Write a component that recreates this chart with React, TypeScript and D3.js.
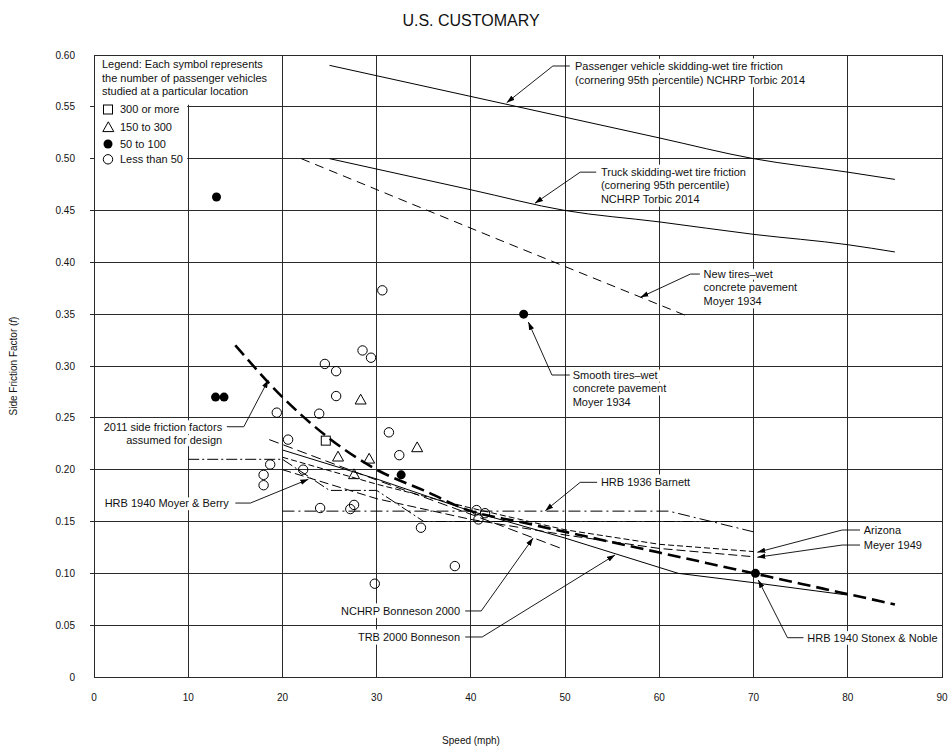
import React from "react";
import * as d3 from "d3";

// axis ticks
const xTickValues = [0, 10, 20, 30, 40, 50, 60, 70, 80, 90];
const yTickValues = [0, 0.05, 0.1, 0.15, 0.2, 0.25, 0.3, 0.35, 0.4, 0.45, 0.5, 0.55, 0.6];

// observed points [speed mph, side friction f]
const openCircles: [number, number][] = [
  [30.6, 0.373], [28.5, 0.315], [29.4, 0.308], [24.5, 0.302], [25.7, 0.295],
  [25.7, 0.271], [19.4, 0.255], [23.9, 0.254], [31.3, 0.236], [20.6, 0.229],
  [32.4, 0.214], [18.7, 0.205], [22.2, 0.2], [18.0, 0.195], [18.0, 0.185],
  [24.0, 0.163], [27.6, 0.166], [27.2, 0.162], [34.7, 0.144], [38.3, 0.107],
  [29.8, 0.09], [40.6, 0.161], [41.5, 0.158], [40.8, 0.152],
];
const filledCircles: [number, number][] = [
  [13.0, 0.463], [12.9, 0.27], [13.8, 0.27], [32.6, 0.195], [45.6, 0.35], [70.2, 0.1],
];
const squares: [number, number][] = [[24.6, 0.228]];
const triangles: [number, number][] = [
  [25.9, 0.212], [29.2, 0.21], [27.6, 0.195], [28.3, 0.267], [34.3, 0.221],
];

// curves
const passengerSpeed = [25, 30, 40, 50, 60, 70, 80, 85];
const passengerF = [0.59, 0.58, 0.56, 0.54, 0.52, 0.5, 0.487, 0.48];
const truckSpeed = [25, 30, 40, 50, 60, 70, 80, 85];
const truckF = [0.5, 0.49, 0.47, 0.45, 0.439, 0.427, 0.417, 0.41];
const newTiresSpeed = [22, 43.2, 63];
const newTiresF = [0.5, 0.421, 0.348];
const designSpeed = [15, 20, 25, 30, 35, 40, 45, 50, 55, 60, 65, 70, 75, 80, 85];
const designF = [0.32, 0.27, 0.23, 0.2, 0.18, 0.16, 0.15, 0.14, 0.13, 0.12, 0.11, 0.1, 0.09, 0.08, 0.07];
const trbSpeed = [20, 30, 40, 50, 62, 70, 80];
const trbF = [0.219, 0.191, 0.16, 0.134, 0.1, 0.091, 0.079];
const nchrpSpeed = [18.6, 30, 40, 49.6];
const nchrpF = [0.229, 0.19, 0.157, 0.124];
const moyerBerrySpeed = [10, 20, 25, 30, 35, 70];
const moyerBerryF = [0.21, 0.21, 0.18, 0.18, 0.15, 0.15];
const barnettSpeed = [20, 61, 70];
const barnettF = [0.16, 0.16, 0.14];
const arizonaSpeed = [20, 30, 40, 50, 60, 70];
const arizonaF = [0.212, 0.186, 0.163, 0.142, 0.128, 0.121];
const meyerSpeed = [20, 30, 40, 50, 60, 70];
const meyerF = [0.2, 0.172, 0.152, 0.137, 0.124, 0.116];

const legendLines = [
  "Legend: Each symbol represents",
  "the number of passenger vehicles",
  "studied at a particular location",
];
const legendItems = ["300 or more", "150 to 300", "50 to 100", "Less than 50"];

const zip = (a: number[], b: number[]) => a.map((v, i) => [v, b[i]] as [number, number]);

const series = [
  { pts: zip(passengerSpeed, passengerF), w: 1, dash: "none", smooth: true },
  { pts: zip(truckSpeed, truckF), w: 1, dash: "none", smooth: true },
  { pts: zip(newTiresSpeed, newTiresF), w: 1, dash: "9 6", smooth: false },
  { pts: zip(trbSpeed, trbF), w: 1, dash: "none", smooth: false },
  { pts: zip(nchrpSpeed, nchrpF), w: 1, dash: "10 5", smooth: false },
  { pts: zip(moyerBerrySpeed, moyerBerryF), w: 1, dash: "11 3 2 3", smooth: false },
  { pts: zip(barnettSpeed, barnettF), w: 1, dash: "12 4 2 4", smooth: false },
  { pts: zip(arizonaSpeed, arizonaF), w: 1, dash: "6 3", smooth: false },
  { pts: zip(meyerSpeed, meyerF), w: 1, dash: "9 4", smooth: false },
  { pts: zip(designSpeed, designF), w: 2.6, dash: "13 6", smooth: true },
];

// annotations: text anchor and leader (last point = arrow tip), all in data units
const annotations: {
  lines: string[];
  anchor: "start" | "end";
  at: [number, number];
  leader: [number, number][];
}[] = [
  {
    lines: ["Passenger vehicle skidding-wet tire friction", "(cornering 95th percentile) NCHRP Torbic 2014"],
    anchor: "start", at: [51.05, 0.5855],
    leader: [[50.5, 0.5894], [48.7, 0.5894], [43.8, 0.554]],
  },
  {
    lines: ["Truck skidding-wet tire friction", "(cornering 95th percentile)", "NCHRP Torbic 2014"],
    anchor: "start", at: [53.8, 0.4833],
    leader: [[53.3, 0.487], [51.6, 0.487], [46.8, 0.457]],
  },
  {
    lines: ["New tires\u2013wet", "concrete pavement", "Moyer 1934"],
    anchor: "start", at: [64.7, 0.3849],
    leader: [[64.3, 0.3887], [63.3, 0.3887], [58.0, 0.3663]],
  },
  {
    lines: ["Smooth tires\u2013wet", "concrete pavement", "Moyer 1934"],
    anchor: "start", at: [50.8, 0.2875],
    leader: [[50.5, 0.2913], [48.6, 0.2913], [46.1, 0.3424]],
  },
  {
    lines: ["2011 side friction factors", "assumed for design"],
    anchor: "end", at: [13.6, 0.2376],
    leader: [[14.1, 0.2414], [15.9, 0.2414], [18.5, 0.2865]],
  },
  {
    lines: ["HRB 1940 Moyer & Berry"],
    anchor: "end", at: [14.3, 0.164],
    leader: [[15.0, 0.1678], [16.6, 0.1678], [22.75, 0.1907]],
  },
  {
    lines: ["HRB 1936 Barnett"],
    anchor: "start", at: [53.8, 0.184],
    leader: [[53.4, 0.1878], [51.6, 0.1878], [47.9, 0.1604]],
  },
  {
    lines: ["NCHRP Bonneson 2000"],
    anchor: "end", at: [38.85, 0.0598],
    leader: [[39.4, 0.0637], [41.1, 0.0637], [46.6, 0.134]],
  },
  {
    lines: ["TRB 2000 Bonneson"],
    anchor: "end", at: [38.85, 0.0347],
    leader: [[39.4, 0.0386], [41.2, 0.0386], [55.3, 0.1177]],
  },
  {
    lines: ["Arizona"],
    anchor: "start", at: [81.7, 0.1379],
    leader: [[81.3, 0.1418], [79.4, 0.1418], [70.4, 0.1203]],
  },
  {
    lines: ["Meyer 1949"],
    anchor: "start", at: [81.7, 0.1235],
    leader: [[81.3, 0.1273], [79.4, 0.1273], [70.4, 0.1155]],
  },
  {
    lines: ["HRB 1940 Stonex & Noble"],
    anchor: "start", at: [75.7, 0.034],
    leader: [[75.3, 0.0379], [73.6, 0.0379], [70.5, 0.0936]],
  },
];

const FONT = "'Liberation Sans', Arial, Helvetica, sans-serif";

const triPath = (cx: number, cy: number) =>
  `M${cx},${cy - 6}L${cx + 5.5},${cy + 3.8}L${cx - 5.5},${cy + 3.8}Z`;

const App: React.FC = () => {
  const x = d3.scaleLinear().domain([0, 90]).range([94, 942]);
  const y = d3.scaleLinear().domain([0, 0.6]).range([677, 55]);
  const line = d3
    .line<[number, number]>()
    .x((d) => x(d[0]))
    .y((d) => y(d[1]));
  const smoothLine = d3
    .line<[number, number]>()
    .x((d) => x(d[0]))
    .y((d) => y(d[1]))
    .curve(d3.curveMonotoneX);

  const innerX = xTickValues.slice(1, -1);
  const innerY = yTickValues.slice(1, -1);

  return (
    <svg
      width={949}
      height={749}
      style={{ position: "absolute", left: 0, top: 0, background: "#fff" }}
      fontFamily={FONT}
    >
      <defs>
        <marker id="arrow" markerUnits="userSpaceOnUse" markerWidth={9} markerHeight={6}
          refX={8} refY={3} orient="auto">
          <path d="M0,0.3L8,3L0,5.7Z" fill="#000" />
        </marker>
      </defs>
      <rect width={949} height={749} fill="#fff" />

      <text x={471} y={26} textAnchor="middle" fontSize={16} fill="#111">U.S. CUSTOMARY</text>

      {/* grid */}
      <g stroke="#2a2a2a" strokeWidth={1} shapeRendering="crispEdges">
        {innerX.map((v) => (
          <line key={"gx" + v} x1={x(v)} x2={x(v)} y1={y(0)} y2={y(0.6)} />
        ))}
        {innerY.map((v) => (
          <line key={"gy" + v} x1={x(0)} x2={x(90)} y1={y(v)} y2={y(v)} />
        ))}
        {innerY.map((v) => (
          <line key={"tk" + v} x1={x(0) - 4} x2={x(0)} y1={y(v)} y2={y(v)} />
        ))}
        <rect x={x(0)} y={y(0.6)} width={x(90) - x(0)} height={y(0) - y(0.6)} fill="none" />
      </g>

      {/* tick labels */}
      <g fontSize={10} fill="#111">
        {yTickValues.map((v) => (
          <text key={"yl" + v} x={75} y={y(v)} dy="0.35em" textAnchor="end">
            {v === 0 ? "0" : d3.format(".2f")(v)}
          </text>
        ))}
        {xTickValues.map((v) => (
          <text key={"xl" + v} x={x(v)} y={701} textAnchor="middle">{v}</text>
        ))}
        <text x={471} y={744} textAnchor="middle">Speed (mph)</text>
        <text transform="translate(17,366) rotate(-90)" textAnchor="middle">
          Side Friction Factor (<tspan fontStyle="italic">f</tspan>)
        </text>
      </g>

      {/* legend box */}
      <g fill="#fff">
        <rect x={x(0) + 1} y={y(0.6) + 1} width={x(10) - x(0) - 2} height={y(0.488) - y(0.6)} />
        <rect x={x(0) + 1} y={y(0.6) + 1} width={x(18.5) - x(0)} height={y(0.553) - y(0.6)} />
      </g>
      <g fontSize={11} fill="#111">
        {legendLines.map((t, i) => (
          <text key={t} x={102} y={68 + i * 13.6}>{t}</text>
        ))}
        {legendItems.map((t, i) => (
          <text key={t} x={120} y={[113.3, 131.3, 148, 163.3][i]}>{t}</text>
        ))}
      </g>
      <rect x={103.5} y={105} width={9} height={9} fill="none" stroke="#000" />
      <path d={triPath(108.3, 127.8)} fill="none" stroke="#000" />
      <circle cx={108} cy={144} r={4.5} fill="#000" />
      <circle cx={108} cy={159.3} r={4.7} fill="none" stroke="#000" />

      {/* annotation texts with white halo */}
      <g fontSize={11} fill="#111" stroke="#fff" strokeWidth={7} strokeLinejoin="round"
        style={{ paintOrder: "stroke" }}>
        {annotations.map((a, i) =>
          a.lines.map((t, j) => (
            <text key={i + "-" + j} x={x(a.at[0])} y={y(a.at[1]) + j * 13.5} textAnchor={a.anchor}>
              {t}
            </text>
          ))
        )}
      </g>

      {/* curves */}
      <g fill="none" stroke="#000">
        {series.map((s, i) => (
          <path
            key={"s" + i}
            d={(s.smooth ? smoothLine : line)(s.pts) || ""}
            strokeWidth={s.w}
            strokeDasharray={s.dash}
          />
        ))}
      </g>

      {/* points */}
      <g>
        {openCircles.map((d, i) => (
          <circle key={"o" + i} cx={x(d[0])} cy={y(d[1])} r={4.7} fill="none"
            stroke="#000" strokeWidth={1} />
        ))}
        {triangles.map((d, i) => (
          <path key={"t" + i} d={triPath(x(d[0]), y(d[1]))} fill="none" stroke="#000" />
        ))}
        {squares.map((d, i) => (
          <rect key={"q" + i} x={x(d[0]) - 4.5} y={y(d[1]) - 4.5} width={9} height={9}
            fill="none" stroke="#000" />
        ))}
        {filledCircles.map((d, i) => (
          <circle key={"f" + i} cx={x(d[0])} cy={y(d[1])} r={4.5} fill="#000" />
        ))}
      </g>

      {/* leaders */}
      <g fill="none" stroke="#000" strokeWidth={0.9}>
        {annotations.map((a, i) => (
          <path key={"l" + i} d={line(a.leader) || ""} markerEnd="url(#arrow)" />
        ))}
      </g>
    </svg>
  );
};

export default App;
